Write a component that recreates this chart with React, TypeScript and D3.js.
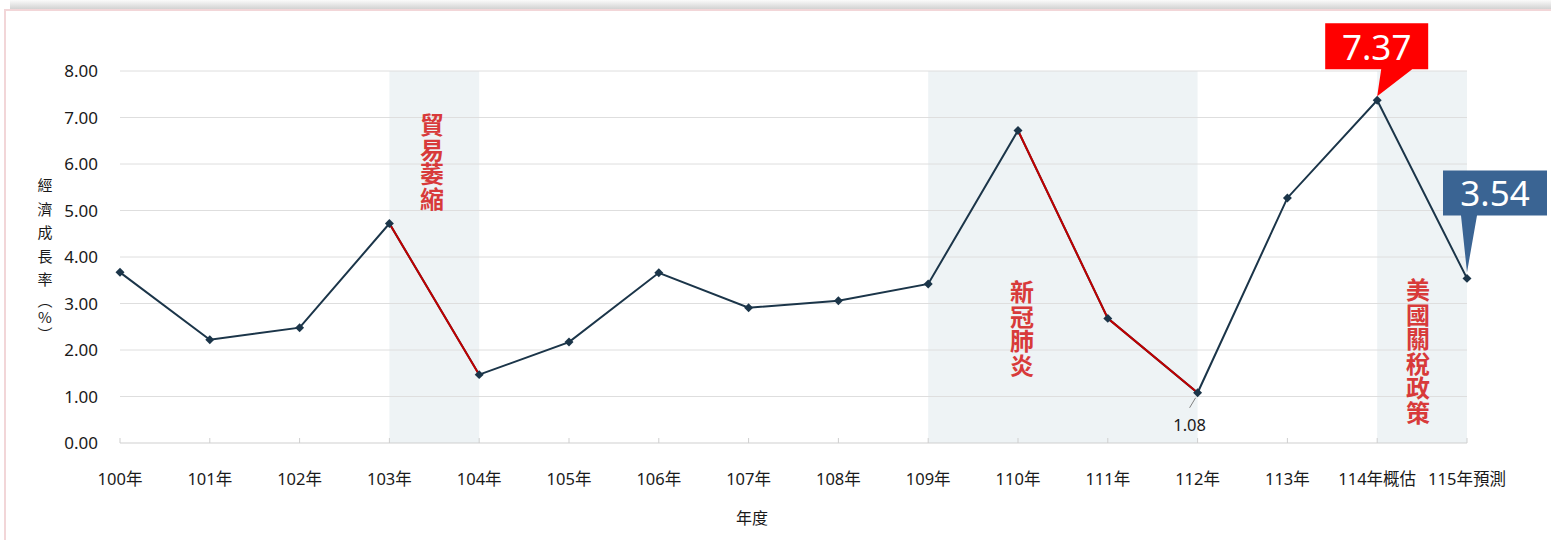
import React from "react";
import * as d3 from "d3";

// Annual economic growth rate (%), ROC years 100–115
const years = ["100年", "101年", "102年", "103年", "104年", "105年", "106年", "107年", "108年", "109年", "110年", "111年", "112年", "113年", "114年概估", "115年預測"];
const growth = [3.67, 2.22, 2.48, 4.72, 1.47, 2.17, 3.66, 2.91, 3.06, 3.42, 6.72, 2.68, 1.08, 5.27, 7.37, 3.54];
const yTicks = [0, 1, 2, 3, 4, 5, 6, 7, 8];

// Shaded event periods: [start index, end index, label]
const events: [number, number, string][] = [
  [3, 4, "貿易萎縮"],
  [9, 12, "新冠肺炎"],
  [14, 15, "美國關稅政策"],
];
// Segments drawn in red (start index of each segment)
const downSegments = [3, 10, 11];

const W = 1551;
const H = 540;
const FONT = "'Noto Sans', 'Noto Sans CJK TC', sans-serif";
const CJK = "'Noto Sans CJK TC', sans-serif";
const NAVY = "#1b3549";
const RED = "#c00000";
const LABEL_RED = "#d83a3a";
const INK = "#1a1a1a";

export default function App() {
  const x = d3.scalePoint<string>().domain(years).range([120, 1467]);
  const y = d3.scaleLinear().domain([0, 8]).range([443, 71]);
  const px = (i: number) => x(years[i]) as number;
  const py = (i: number) => y(growth[i]);

  const line = d3.line<number>().x((i) => px(i)).y((i) => py(i));
  const idx = growth.map((_, i) => i);
  const marker = d3.symbol().type(d3.symbolSquare).size(40)() as string;

  // event label placement (center x, top y)
  const labelPos: [number, number][] = [
    [432, 113],
    [1022, 280],
    [1418, 278],
  ];

  const peakI = 14;
  const lastI = 15;
  const lowI = 12;

  const vertical = { writingMode: "vertical-rl", textOrientation: "upright" } as React.CSSProperties;

  return (
    <svg width={W} height={H} style={{ position: "absolute", left: 0, top: 0, fontFamily: FONT }}>
      <defs>
        <linearGradient id="topShade" x1="0" y1="0" x2="0" y2="1">
          <stop offset="0" stopColor="#fbfbfb" />
          <stop offset="1" stopColor="#d2d2d2" />
        </linearGradient>
      </defs>
      <rect x={0} y={0} width={W} height={H} fill="#fff" />
      <rect x={10} y={0} width={W - 10} height={9} fill="url(#topShade)" />
      <line x1={4} x2={W} y1={10} y2={10} stroke="#f2d6d8" strokeWidth={2} />
      <line x1={5} x2={5} y1={10} y2={H} stroke="#f2d6d8" strokeWidth={2} />

      {/* shaded periods */}
      {events.map(([a, b], k) => (
        <rect key={"b" + k} x={px(a)} y={y(8)} width={px(b) - px(a)} height={y(0) - y(8)} fill="#eef3f5" />
      ))}

      {/* grid */}
      {yTicks.map((t) => (
        <line key={"g" + t} x1={px(0)} x2={px(years.length - 1)} y1={y(t)} y2={y(t)} stroke={t === 0 ? "#cfcfcf" : "#dedede"} strokeWidth={1} />
      ))}
      {years.map((yr) => (
        <line key={"t" + yr} x1={x(yr)} x2={x(yr)} y1={y(0) - 5} y2={y(0)} stroke="#cfcfcf" />
      ))}

      {/* y tick labels */}
      {yTicks.map((t) => (
        <text key={"yl" + t} x={98} y={y(t)} dy="0.36em" textAnchor="end" fontSize={17} fill={INK}>
          {t.toFixed(2)}
        </text>
      ))}
      {/* x tick labels */}
      {years.map((yr) => (
        <text key={"xl" + yr} x={x(yr)} y={485} textAnchor="middle" fontSize={16.5} fill={INK}>
          {yr}
        </text>
      ))}

      {/* axis titles */}
      <text x={752} y={524} textAnchor="middle" fontSize={16} fill={INK} fontFamily={CJK}>年度</text>
      <text x={45} y={178} fontSize={15} fill={INK} fontFamily={CJK} style={{ ...vertical, letterSpacing: "8.5px" }}>
        經濟成長率
      </text>
      <text x={45} y={293} fontSize={15} fill={INK} fontFamily={CJK} style={{ ...vertical, letterSpacing: "2px" }}>
        （%）
      </text>

      {/* event labels, set vertically */}
      {events.map(([, , label], k) => (
        <text
          key={"el" + k}
          x={labelPos[k][0]}
          y={labelPos[k][1]}
          fontSize={24}
          fontWeight={700}
          fill={LABEL_RED}
          fontFamily={CJK}
          style={{ ...vertical, letterSpacing: "0.5px" }}
        >
          {label}
        </text>
      ))}

      {/* line */}
      <path d={line(idx) as string} fill="none" stroke={NAVY} strokeWidth={2} />
      {downSegments.map((s) => (
        <path key={"r" + s} d={line([s, s + 1]) as string} fill="none" stroke={RED} strokeWidth={2} />
      ))}
      {idx.map((i) => (
        <path key={"m" + i} d={marker} transform={`translate(${px(i)},${py(i)}) rotate(45)`} fill={NAVY} />
      ))}

      {/* low point label */}
      <line x1={px(lowI) - 2} y1={py(lowI) + 5} x2={px(lowI) - 8} y2={py(lowI) + 15} stroke="#7f7f7f" strokeWidth={1} />
      <text x={px(lowI) - 8} y={431} textAnchor="middle" fontSize={16.5} fill={INK}>
        {growth[lowI].toFixed(2)}
      </text>

      {/* peak callout */}
      {(() => {
        const cx = px(peakI);
        const cy = py(peakI);
        const bx = cx - 52;
        const by = cy - 77;
        const bw = 103;
        const bh = 46;
        const pts = [
          [bx, by], [bx + bw, by], [bx + bw, by + bh], [cx + 35, by + bh], [cx, cy - 4], [cx + 4, by + bh], [bx, by + bh],
        ];
        return (
          <g>
            <path d={"M" + pts.map((p) => p.join(",")).join("L") + "Z"} fill="#ff0000" />
            <text x={bx + bw / 2} y={by + 37} textAnchor="middle" fontSize={35} fill="#fff">{growth[peakI].toFixed(2)}</text>
          </g>
        );
      })()}

      {/* forecast callout */}
      {(() => {
        const cx = px(lastI);
        const cy = py(lastI);
        const bx = cx - 24;
        const by = cy - 108;
        const bw = 104;
        const bh = 45;
        const pts = [
          [bx, by], [bx + bw, by], [bx + bw, by + bh], [cx + 10, by + bh], [cx, cy - 6], [cx - 6, by + bh], [bx, by + bh],
        ];
        return (
          <g>
            <path d={"M" + pts.map((p) => p.join(",")).join("L") + "Z"} fill="#3a6493" />
            <text x={bx + bw / 2} y={by + 36} textAnchor="middle" fontSize={35} fill="#fff">{growth[lastI].toFixed(2)}</text>
          </g>
        );
      })()}
    </svg>
  );
}
